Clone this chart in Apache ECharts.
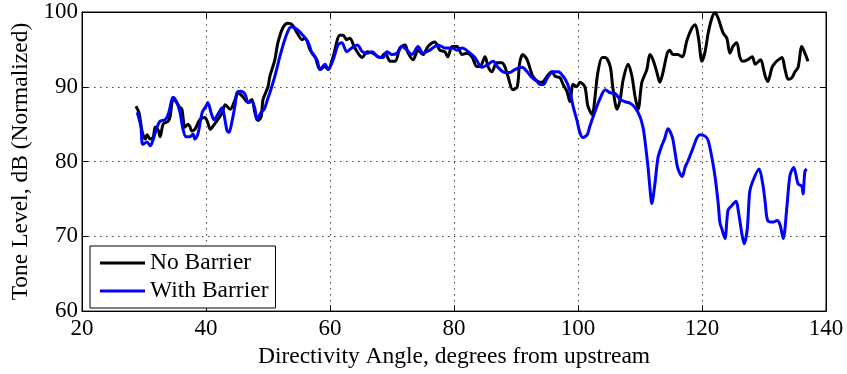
<!DOCTYPE html>
<html>
<head>
<meta charset="utf-8">
<script src="https://cdn.jsdelivr.net/npm/echarts@6/dist/echarts.min.js"></script>
<style>
  html, body { margin: 0; padding: 0; background: #fff; }
  #chart { width: 847px; height: 374px; }
</style>
</head>
<body>
<div id="chart"></div>
<script>
// Tone level versus directivity angle, [angle (deg), level (dB)]
const noBarrier = [
  [28.7, 87.4], [29.2, 86.5], [29.7, 84.0], [30.2, 83.0], [30.5, 83.6], [31.0, 83.0],
  [31.5, 83.3], [31.8, 84.6], [32.3, 84.2], [32.6, 83.3], [33.1, 85.0], [33.9, 85.4],
  [34.2, 86.0], [34.7, 88.3], [35.2, 88.0], [35.7, 87.3], [36.1, 87.0], [36.6, 84.6],
  [37.1, 85.0], [37.4, 84.7], [37.7, 84.1], [38.2, 84.3], [39.0, 85.6], [39.8, 85.9],
  [40.2, 85.4], [40.7, 84.3], [41.1, 84.7], [41.9, 85.6], [42.6, 86.5], [43.1, 87.6],
  [43.9, 87.0], [44.7, 88.3], [45.2, 89.2], [46.0, 88.6], [46.8, 87.9], [47.4, 88.3],
  [47.9, 86.5], [48.4, 85.5], [48.9, 86.0], [49.2, 88.3], [50.0, 90.0], [50.3, 91.4],
  [51.1, 93.6], [51.6, 95.9], [52.4, 97.9], [53.2, 98.5], [53.9, 98.3], [54.7, 97.2],
  [55.5, 96.3], [56.0, 96.5], [56.8, 94.9], [57.6, 94.0], [58.4, 92.3], [59.2, 92.7],
  [59.7, 92.3], [60.5, 94.0], [61.6, 96.9], [62.1, 96.9], [62.7, 96.3], [63.2, 96.5],
  [64.0, 95.2], [65.2, 93.9], [66.0, 94.7], [66.9, 94.5], [68.1, 93.9], [68.9, 94.5],
  [69.7, 93.4], [70.5, 93.4], [71.3, 95.2], [72.1, 95.6], [72.6, 94.5], [73.4, 93.6],
  [74.2, 94.9], [75.0, 94.3], [75.8, 95.4], [76.9, 96.0], [77.7, 94.9], [78.5, 94.7],
  [79.0, 94.0], [79.7, 95.4], [80.5, 95.4], [81.3, 94.3], [82.1, 94.5], [82.9, 94.0],
  [83.7, 92.7], [84.2, 92.7], [85.0, 94.0], [85.5, 92.7], [86.1, 92.0], [86.9, 93.2],
  [87.7, 93.2], [88.2, 92.7], [88.7, 91.4], [89.5, 89.6], [90.2, 90.0], [90.6, 93.2],
  [91.1, 94.3], [91.8, 93.6], [92.6, 91.6], [93.1, 91.0], [93.9, 90.6], [94.4, 90.7],
  [95.2, 91.6], [95.8, 92.0], [96.3, 91.4], [97.1, 91.2], [97.6, 90.3], [98.2, 89.4],
  [98.7, 88.0], [99.2, 90.3], [99.8, 90.0], [100.3, 90.6], [101.1, 90.0], [101.6, 87.4],
  [102.3, 86.3], [102.7, 88.3], [103.2, 91.9], [103.9, 93.9], [104.4, 93.9], [105.2, 92.7],
  [105.6, 90.0], [106.3, 87.0], [106.8, 88.3], [107.3, 91.0], [108.1, 93.0], [108.7, 91.4],
  [109.2, 88.7], [109.7, 87.0], [110.3, 90.6], [111.1, 92.3], [111.6, 94.3], [112.1, 93.6],
  [112.7, 92.0], [113.2, 90.6], [113.7, 91.9], [114.4, 94.5], [114.8, 94.9], [115.3, 94.3],
  [116.1, 94.3], [116.8, 94.0], [117.6, 96.3], [118.4, 97.9], [118.9, 98.3], [119.4, 96.7],
  [120.0, 93.4], [120.5, 94.7], [121.0, 97.2], [121.6, 99.2], [122.1, 99.9], [122.6, 99.2],
  [123.4, 97.2], [124.0, 96.5], [124.5, 94.5], [125.0, 95.4], [125.6, 95.9], [126.1, 94.0],
  [126.6, 93.4], [127.3, 93.6], [128.1, 94.0], [128.6, 93.0], [129.4, 93.6], [130.2, 91.4],
  [130.6, 90.7], [131.3, 92.6], [131.8, 93.2], [132.3, 93.6], [132.9, 93.9], [133.4, 92.3],
  [133.9, 91.0], [134.5, 91.2], [135.0, 92.0], [135.5, 92.6], [136.1, 95.4], [136.6, 94.5],
  [137.1, 93.4]
];

const withBarrier = [
  [28.9, 86.6], [29.5, 84.7], [29.8, 82.3], [30.5, 82.6], [31.0, 82.1], [31.5, 83.0],
  [32.1, 84.6], [32.6, 85.4], [33.4, 85.6], [33.9, 86.3], [34.5, 88.3], [34.7, 88.6],
  [35.3, 87.9], [35.8, 86.6], [36.3, 84.3], [36.8, 83.3], [37.4, 83.3], [37.9, 83.7],
  [38.2, 83.0], [38.7, 83.7], [39.4, 86.6], [40.0, 87.4], [40.3, 87.9], [40.8, 86.6],
  [41.3, 85.6], [41.9, 86.3], [42.6, 87.2], [42.9, 86.3], [43.4, 84.1], [43.7, 83.9],
  [44.2, 85.4], [44.7, 87.6], [45.0, 89.2], [45.6, 89.4], [46.3, 89.0], [46.8, 87.9],
  [47.4, 88.0], [47.9, 87.0], [48.2, 85.6], [48.9, 86.6], [49.4, 87.0], [50.0, 88.5],
  [50.3, 89.2], [51.1, 91.4], [51.9, 94.0], [52.7, 96.3], [53.5, 97.9], [54.0, 98.0],
  [54.8, 97.6], [55.6, 96.9], [56.5, 95.9], [57.1, 94.5], [57.9, 93.6], [58.4, 92.3],
  [59.2, 93.0], [59.7, 92.3], [60.5, 93.6], [61.3, 95.6], [61.9, 95.9], [62.7, 94.7],
  [63.5, 95.2], [64.4, 95.6], [65.2, 94.7], [66.0, 94.5], [66.8, 94.7], [67.7, 94.0],
  [68.5, 93.9], [69.2, 94.7], [70.0, 94.3], [70.8, 94.5], [71.6, 95.4], [72.4, 94.9],
  [73.2, 94.3], [74.2, 95.4], [75.0, 94.5], [76.1, 94.9], [77.4, 95.6], [78.5, 95.2],
  [79.7, 95.2], [80.5, 94.9], [81.3, 95.2], [82.6, 94.5], [83.4, 93.9], [84.5, 92.6],
  [85.5, 93.0], [86.3, 93.4], [87.1, 92.6], [88.2, 91.9], [89.0, 91.9], [89.8, 92.3],
  [91.0, 92.6], [91.8, 92.0], [92.6, 91.2], [93.4, 90.7], [93.9, 90.3], [94.4, 90.3],
  [95.2, 91.4], [96.0, 92.0], [96.8, 92.0], [97.6, 91.4], [98.2, 90.6], [98.7, 89.4],
  [99.2, 87.4], [99.8, 85.6], [100.3, 83.9], [100.8, 83.2], [101.5, 83.6], [101.9, 84.7],
  [102.7, 86.6], [103.5, 88.3], [104.4, 89.6], [105.2, 89.2], [106.0, 89.1], [106.8, 88.3],
  [107.6, 88.0], [108.4, 87.8], [109.2, 87.2], [110.0, 86.0], [110.5, 84.5], [110.8, 82.8],
  [111.3, 79.2], [111.6, 76.5], [111.9, 74.4], [112.4, 77.0], [112.9, 80.5], [113.5, 82.1],
  [114.0, 83.1], [114.5, 84.4], [115.2, 83.3], [115.6, 81.5], [116.1, 79.1], [116.8, 78.0],
  [117.3, 79.3], [117.7, 80.0], [118.5, 81.7], [119.2, 83.2], [119.7, 83.6], [120.5, 83.4],
  [121.0, 82.8], [121.6, 80.5], [122.1, 78.0], [122.6, 74.5], [122.9, 71.8], [123.2, 71.0],
  [123.7, 69.7], [124.2, 73.5], [124.8, 74.1], [125.5, 74.7], [125.8, 73.7], [126.5, 70.0],
  [126.8, 69.0], [127.3, 71.0], [127.7, 76.0], [128.2, 77.4], [129.2, 79.0], [129.8, 77.0],
  [130.2, 74.5], [130.6, 72.1], [131.5, 71.9], [132.1, 72.1], [132.6, 71.5], [133.1, 69.7],
  [133.7, 74.0], [134.2, 78.2], [134.8, 79.2], [135.5, 77.0], [136.1, 76.7], [136.3, 75.7],
  [136.6, 78.7], [136.9, 79.0]
];

const seriesNames = ['No Barrier', 'With Barrier'];
const xTicks = [20, 40, 60, 80, 100, 120, 140];
const yTicks = [60, 70, 80, 90, 100];

const FONT = '"Liberation Serif", "Times New Roman", serif';
const tickText = { fontFamily: FONT, fontSize: 23, color: '#000' };
const titleText = { fontFamily: FONT, fontSize: 23.5, color: '#000' };
const gridLine = {
  type: [1.5, 4.5],
  color: '#444',
  width: 1
};

const chart = echarts.init(document.getElementById('chart'), null, { renderer: 'canvas' });

const xBase = {
  type: 'value',
  min: xTicks[0],
  max: xTicks[xTicks.length - 1],
  interval: xTicks[1] - xTicks[0]
};
const yBase = {
  type: 'value',
  min: yTicks[0],
  max: yTicks[yTicks.length - 1],
  interval: yTicks[1] - yTicks[0]
};
const frameLine = { show: true, lineStyle: { color: '#000', width: 1 } };
const innerTick = { show: true, inside: true, length: 6, lineStyle: { color: '#000' } };

chart.setOption({
  animation: false,
  backgroundColor: '#fff',
  grid: {
    left: 82, right: 21, top: 12, bottom: 61,
    show: true, borderColor: '#000', borderWidth: 1, backgroundColor: 'transparent'
  },
  legend: {
    data: seriesNames,
    orient: 'vertical',
    left: 90,
    top: 246,
    icon: 'rect',
    itemWidth: 45,
    itemHeight: 3,
    itemGap: 4,
    itemTextGap: 6,
    padding: [5, 7, 5, 10],
    borderColor: '#000',
    borderWidth: 1,
    backgroundColor: '#fff',
    textStyle: Object.assign({}, titleText, { lineHeight: 23 })
  },
  xAxis: [
    Object.assign({}, xBase, {
      position: 'bottom',
      name: 'Directivity Angle, degrees from upstream',
      nameLocation: 'middle',
      nameGap: 29,
      nameTextStyle: titleText,
      axisLine: frameLine,
      axisTick: innerTick,
      axisLabel: Object.assign({}, tickText, { margin: 6 }),
      splitLine: { show: true, lineStyle: gridLine }
    }),
    Object.assign({}, xBase, {
      position: 'top',
      axisLine: frameLine,
      axisTick: innerTick,
      axisLabel: { show: false },
      splitLine: { show: false }
    })
  ],
  yAxis: [
    Object.assign({}, yBase, {
      position: 'left',
      name: 'Tone Level, dB (Normalized)',
      nameLocation: 'middle',
      nameGap: 46,
      nameTextStyle: titleText,
      axisLine: frameLine,
      axisTick: innerTick,
      axisLabel: Object.assign({}, tickText, { margin: 4 }),
      splitLine: { show: true, lineStyle: gridLine }
    }),
    Object.assign({}, yBase, {
      position: 'right',
      axisLine: frameLine,
      axisTick: innerTick,
      axisLabel: { show: false },
      splitLine: { show: false }
    })
  ],
  series: [
    {
      name: seriesNames[0],
      type: 'line',
      data: noBarrier,
      xAxisIndex: 0,
      yAxisIndex: 0,
      showSymbol: false,
      symbol: 'none',
      smooth: 0.3,
      color: '#000000',
      lineStyle: { color: '#000000', width: 3 },
      z: 3
    },
    {
      name: seriesNames[1],
      type: 'line',
      data: withBarrier,
      xAxisIndex: 0,
      yAxisIndex: 0,
      showSymbol: false,
      symbol: 'none',
      smooth: 0.3,
      color: '#0000ff',
      lineStyle: { color: '#0000ff', width: 3 },
      z: 4
    }
  ]
});
</script>
</body>
</html>
